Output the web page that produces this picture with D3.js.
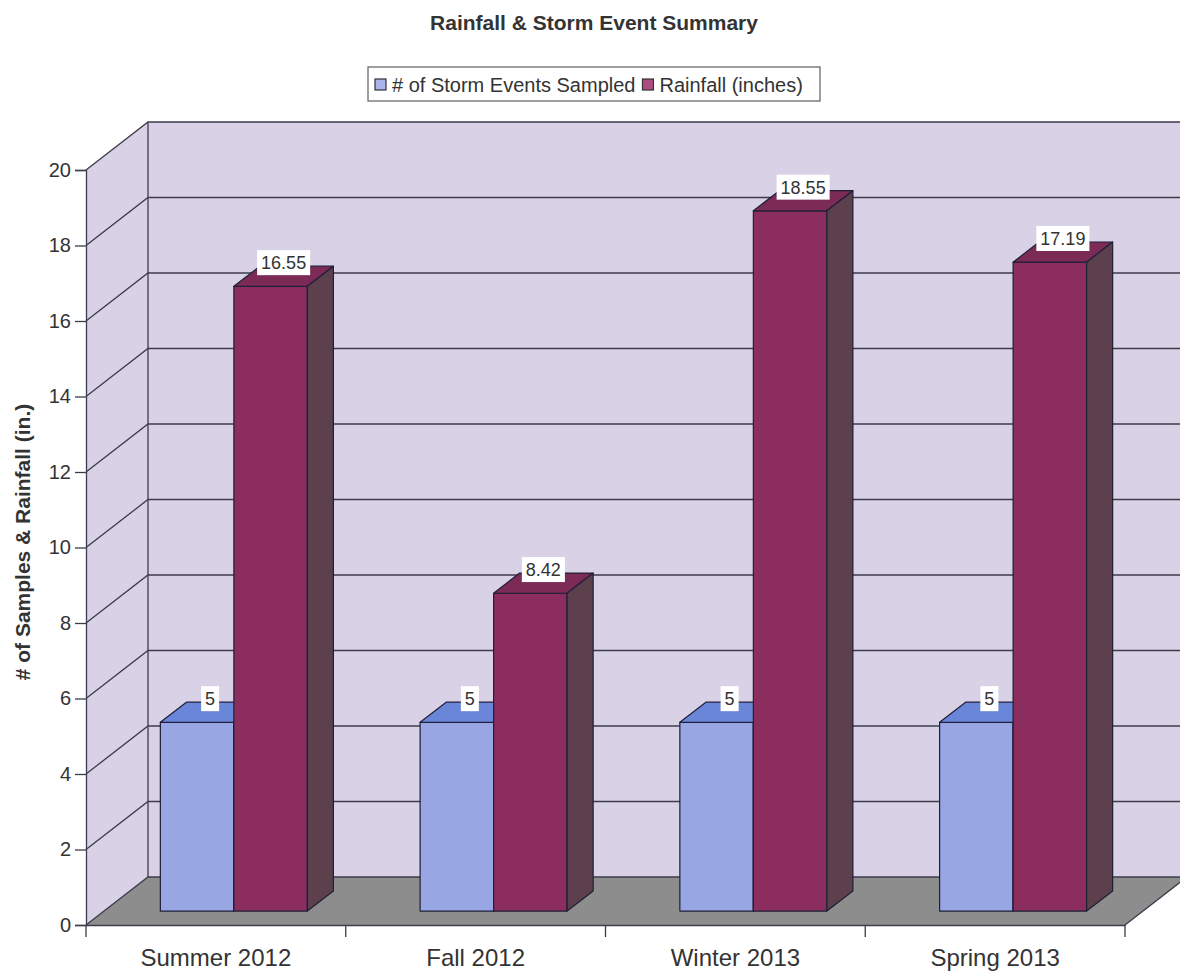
<!DOCTYPE html>
<html>
<head>
<meta charset="utf-8">
<script src="https://cdn.jsdelivr.net/npm/d3@7"></script>
<style>
  html, body { margin: 0; padding: 0; background: #ffffff; }
  svg { display: block; font-family: "Liberation Sans", Arial, sans-serif; }
</style>
</head>
<body>
<svg id="chart" width="1180" height="974"></svg>
<script>
// ---- data ----
const categories = ["Summer 2012", "Fall 2012", "Winter 2013", "Spring 2013"];
const series = ["# of Storm Events Sampled", "Rainfall (inches)"];
const stormEvents = [5, 5, 5, 5];
const rainfall = [16.55, 8.42, 18.55, 17.19];
const rainfallLabels = ["16.55", "8.42", "18.55", "17.19"];
const stormLabels = ["5", "5", "5", "5"];
const yTicks = [0, 2, 4, 6, 8, 10, 12, 14, 16, 18, 20];
const titleText = "Rainfall & Storm Event Summary";
const yTitleText = "# of Samples & Rainfall (in.)";

// ---- layout ----
const svg = d3.select("#chart");
const depthX = 62, depthY = -48;      // 3D depth offset of back wall
const t0 = 0.29, t1 = 0.71;           // bar front/back depth fractions

const x = d3.scaleBand().domain(categories).range([86, 1125]).paddingInner(0).paddingOuter(0);
const xs = d3.scaleBand().domain(series).range([0, x.bandwidth()]).paddingInner(0).paddingOuter(0.767);
const y = d3.scaleLinear().domain([0, 20]).range([925, 170]);

const P = (xb, v, t) => [xb + depthX * t, y(v) + depthY * t];
const poly = pts => "M" + pts.map(p => p.join(",")).join("L") + "Z";

const colors = {
  wall: "#d9d1e5",
  floor: "#8d8d8d",
  grid: "#3c3c4c",
  blueFront: "#98a6e4",
  blueTop: "#6a86d8",
  blueSide: "#5a6cb0",
  redFront: "#8b2d5f",
  redTop: "#7c2a56",
  redSide: "#5c404c",
  outline: "#1f1f38"
};

const x0 = x.range()[0], x1 = x.range()[1];

// back wall
svg.append("path")
  .attr("d", poly([P(x0, 0, 1), P(x1, 0, 1), P(x1, 20, 1), P(x0, 20, 1)]))
  .attr("fill", colors.wall);
// side wall
svg.append("path")
  .attr("d", poly([P(x0, 0, 0), P(x0, 0, 1), P(x0, 20, 1), P(x0, 20, 0)]))
  .attr("fill", colors.wall);
// floor
svg.append("path")
  .attr("d", poly([P(x0, 0, 0), P(x1, 0, 0), P(x1, 0, 1), P(x0, 0, 1)]))
  .attr("fill", colors.floor);

// gridlines on back and side walls
const grid = svg.append("g").attr("stroke", colors.grid).attr("stroke-width", 1.3).attr("fill", "none");
yTicks.filter(v => v > 0).forEach(v => {
  grid.append("path").attr("d", "M" + P(x0, v, 0).join(",") + "L" + P(x0, v, 1).join(",") + "L" + P(x1, v, 1).join(","));
});
// wall edges
grid.append("path").attr("d", "M" + P(x0, 0, 1).join(",") + "L" + P(x0, 20, 1).join(","));
grid.append("path").attr("d", "M" + P(x0, 0, 0).join(",") + "L" + P(x0, 0, 1).join(",") + "L" + P(x1, 0, 1).join(","));
grid.append("path").attr("d", "M" + P(x1, 0, 0).join(",") + "L" + P(x1, 0, 1).join(","));

// bars
const seriesValues = [stormEvents, rainfall];
const seriesLabels = [stormLabels, rainfallLabels];
const faceColors = [
  { front: colors.blueFront, top: colors.blueTop, side: colors.blueSide },
  { front: colors.redFront, top: colors.redTop, side: colors.redSide }
];
const bars = svg.append("g").attr("stroke", colors.outline).attr("stroke-width", 1.2).attr("stroke-linejoin", "round");
const labelData = [];
categories.forEach((c, ci) => {
  series.forEach((s, si) => {
    const v = seriesValues[si][ci];
    const a = x(c) + xs(s), b = a + xs.bandwidth();
    const fc = faceColors[si];
    bars.append("path").attr("d", poly([P(a, 0, t0), P(b, 0, t0), P(b, v, t0), P(a, v, t0)])).attr("fill", fc.front);
    bars.append("path").attr("d", poly([P(a, v, t0), P(b, v, t0), P(b, v, t1), P(a, v, t1)])).attr("fill", fc.top);
    bars.append("path").attr("d", poly([P(b, 0, t0), P(b, 0, t1), P(b, v, t1), P(b, v, t0)])).attr("fill", fc.side);
    labelData.push({
      text: seriesLabels[si][ci],
      cx: (P(a, v, t0)[0] + P(b, v, t1)[0]) / 2,
      cy: P(a, v, t1)[1] - 3
    });
  });
});

// value labels
const labels = svg.append("g");
labelData.forEach(d => {
  const g = labels.append("g");
  const txt = g.append("text")
    .attr("x", d.cx).attr("y", d.cy)
    .attr("text-anchor", "middle").attr("dominant-baseline", "central")
    .attr("font-size", 18).attr("fill", "#333")
    .text(d.text);
  const w = txt.node().getComputedTextLength();
  g.insert("rect", "text")
    .attr("x", d.cx - w / 2 - 4).attr("y", d.cy - 13)
    .attr("width", w + 8).attr("height", 25)
    .attr("fill", "#ffffff");
});

// y axis
const yAxis = svg.append("g")
  .attr("transform", `translate(${x0},0)`)
  .call(d3.axisLeft(y).tickValues(yTicks).tickSize(11).tickPadding(4));
yAxis.select(".domain").attr("stroke", colors.grid).attr("stroke-width", 1.3);
yAxis.selectAll(".tick line").attr("stroke", colors.grid).attr("stroke-width", 1.3);
yAxis.selectAll(".tick text").attr("font-size", 20).attr("fill", "#333").attr("font-family", "Liberation Sans, Arial, sans-serif");

// x axis (labels at band centres, ticks at band boundaries)
const xAxis = svg.append("g")
  .attr("transform", `translate(0,${y(0)})`)
  .call(d3.axisBottom(x).tickSize(0).tickPadding(24));
xAxis.select(".domain").attr("stroke", colors.grid).attr("stroke-width", 1.3);
xAxis.selectAll(".tick text").attr("font-size", 24).attr("fill", "#333").attr("font-family", "Liberation Sans, Arial, sans-serif");
const bounds = categories.map(c => x(c)).concat([x1]);
xAxis.selectAll(".bound").data(bounds).enter().append("line")
  .attr("class", "bound")
  .attr("x1", d => d).attr("x2", d => d).attr("y1", 0).attr("y2", 12)
  .attr("stroke", colors.grid).attr("stroke-width", 1.3);

// title
svg.append("text")
  .attr("x", 594).attr("y", 22)
  .attr("text-anchor", "middle").attr("dominant-baseline", "central")
  .attr("font-size", 21).attr("font-weight", "bold").attr("fill", "#333")
  .text(titleText);

// y title
svg.append("text")
  .attr("transform", "translate(22,542) rotate(-90)")
  .attr("text-anchor", "middle").attr("dominant-baseline", "central")
  .attr("font-size", 21).attr("font-weight", "bold").attr("fill", "#333")
  .text(yTitleText);

// legend
const legend = svg.append("g");
legend.append("rect").attr("x", 368).attr("y", 67).attr("width", 452).attr("height", 34)
  .attr("fill", "#fff").attr("stroke", "#6a6a6a").attr("stroke-width", 1.3);
const swatch = ["#aab3ec", "#ad4c80"];
let lx = 375;
series.forEach((s, i) => {
  legend.append("rect").attr("x", lx).attr("y", 79).attr("width", 11).attr("height", 11)
    .attr("fill", swatch[i]).attr("stroke", "#333").attr("stroke-width", 1.2);
  const t = legend.append("text").attr("x", lx + 17).attr("y", 85)
    .attr("dominant-baseline", "central").attr("font-size", 20).attr("fill", "#333").text(s);
  lx += 17 + t.node().getComputedTextLength() + 7;
});
</script>
</body>
</html>
